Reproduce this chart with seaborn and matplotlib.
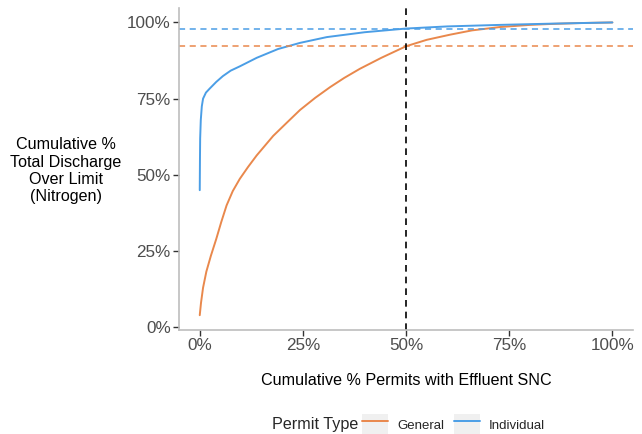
import numpy as np
import pandas as pd
import matplotlib
matplotlib.use("Agg")
import matplotlib.pyplot as plt
import seaborn as sns
from matplotlib.lines import Line2D
from matplotlib.patches import Patch
from matplotlib.legend_handler import HandlerTuple
from matplotlib.ticker import FuncFormatter

# ── Data ──────────────────────────────────────────────────────────────────────
general_x = [0.0, 0.3, 0.8, 1.6, 2.7, 4.0, 5.2, 6.5, 8.0, 9.7, 11.7, 13.8, 17.8,
             21.0, 24.3, 28.0, 31.6, 35.0, 38.8, 44.0, 50.0, 55.0, 60.7,
             66.0, 72.8, 80.0, 85.0, 92.0, 100.0]
general_y = [4.0, 8.0, 13.0, 18.3, 23.5, 29.0, 34.5, 40.0, 44.7, 48.7, 52.6, 56.4,
             62.8, 67.0, 71.3, 75.3, 78.8, 81.8, 84.8, 88.4, 92.2, 94.3, 96.0,
             97.4, 98.5, 99.2, 99.5, 99.8, 100.0]

individual_x = [0.0, 0.05, 0.1, 0.25, 0.5, 0.8, 1.5, 2.4, 4.0, 5.6, 7.5, 9.7, 13.8,
                19.0, 24.3, 30.8, 40.0, 50.0, 60.0, 72.8, 85.0, 100.0]
individual_y = [45.0, 55.0, 62.0, 68.0, 72.5, 75.0, 77.0, 78.3, 80.5, 82.4, 84.2,
                85.6, 88.4, 91.3, 93.3, 95.2, 96.8, 98.0, 98.7, 99.2, 99.6, 100.0]

general_ref = 92.2      # % discharge at 50% of general permits
individual_ref = 98.0   # % discharge at 50% of individual permits
cutoff = 50.0

colors = {"General": "#E9884C", "Individual": "#4B9EE6"}

df = pd.concat([
    pd.DataFrame({"x": general_x, "y": general_y, "Permit Type": "General"}),
    pd.DataFrame({"x": individual_x, "y": individual_y, "Permit Type": "Individual"}),
])

# ── Plot ──────────────────────────────────────────────────────────────────────
sns.set_style("white")
plt.rcParams["font.family"] = ["Liberation Sans", "DejaVu Sans"]

fig = plt.figure(figsize=(6.42, 4.34), dpi=100)
ax = fig.add_axes([0.279, 0.240, 0.707, 0.742])

sns.lineplot(data=df, x="x", y="y", hue="Permit Type", palette=colors,
             linewidth=1.4, legend=False, ax=ax, estimator=None, sort=False)

ax.axhline(general_ref, color=colors["General"], ls=(0, (4, 3)), lw=1.1)
ax.axhline(individual_ref, color=colors["Individual"], ls=(0, (4, 3)), lw=1.1)
ax.axvline(cutoff, color="black", ls=(0, (4, 3)), lw=1.2)

ax.set_xlim(-5, 105)
ax.set_ylim(-0.8, 104.8)
ticks = [0, 25, 50, 75, 100]
ax.set_xticks(ticks)
ax.set_yticks(ticks)
pct = FuncFormatter(lambda v, _: f"{v:.0f}%")
ax.xaxis.set_major_formatter(pct)
ax.yaxis.set_major_formatter(pct)
ax.tick_params(axis="both", bottom=True, left=True, length=4, width=1,
               color="#333333", labelcolor="#4D4D4D", labelsize=12.3, pad=2)

for side in ["top", "right"]:
    ax.spines[side].set_visible(False)
for side in ["left", "bottom"]:
    ax.spines[side].set_color("#BEBEBE")
    ax.spines[side].set_linewidth(1.2)

ax.set_xlabel("Cumulative % Permits with Effluent SNC", fontsize=11.6,
              color="black", labelpad=14)
ax.set_ylabel("Cumulative %\nTotal Discharge\nOver Limit\n(Nitrogen)", fontsize=11.6,
              color="black", rotation=0, ha="center", va="center",
              linespacing=1.2)
ax.yaxis.set_label_coords(-0.249, 0.494)

# ── Legend ───────────────────────────────────────────────────────────────────
handles = [(Patch(facecolor="#F0F0F0", edgecolor="none"),
            Line2D([], [], color=colors[k], lw=1.4)) for k in colors]
fig.text(0.424, 0.022, "Permit Type", fontsize=11.6, ha="left", va="center")
fig.legend(handles, list(colors), handler_map={tuple: HandlerTuple(ndivide=1)},
           ncol=2, loc="center left", bbox_to_anchor=(0.564, 0.022),
           frameon=False, fontsize=9.5, handlelength=2.0, handleheight=2.0,
           handletextpad=0.65, columnspacing=0.75, borderpad=0, borderaxespad=0)

fig.savefig("out.png", dpi=100)
